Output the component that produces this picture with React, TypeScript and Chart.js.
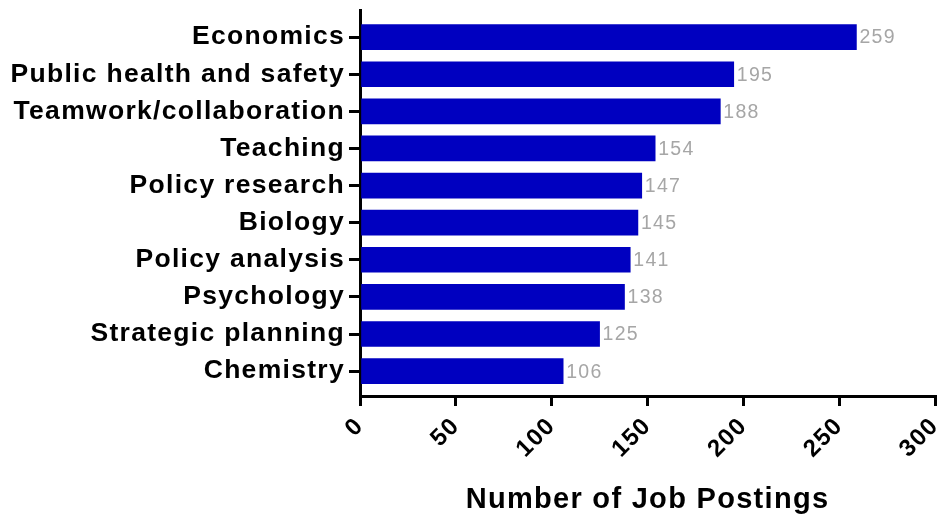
import React, { useEffect, useRef } from "react";
import { Chart, registerables } from "chart.js";

Chart.register(...registerables);

const categories = [
  "Economics",
  "Public health and safety",
  "Teamwork/collaboration",
  "Teaching",
  "Policy research",
  "Biology",
  "Policy analysis",
  "Psychology",
  "Strategic planning",
  "Chemistry",
];
const postings = [259, 195, 188, 154, 147, 145, 141, 138, 125, 106];
const xTicks = [0, 50, 100, 150, 200, 250, 300];

const FONT = "'Liberation Sans', Arial, Helvetica, sans-serif";
const SPACING = "1.3px";

const spacingPlugin = {
  id: "spacing",
  beforeUpdate(chart: any) {
    chart.ctx.letterSpacing = SPACING;
  },
  beforeLayout(chart: any) {
    chart.ctx.letterSpacing = SPACING;
  },
  beforeDraw(chart: any) {
    chart.ctx.letterSpacing = SPACING;
  },
};

const valueLabels = {
  id: "valueLabels",
  afterDatasetsDraw(chart: any) {
    const ctx = chart.ctx;
    const meta = chart.getDatasetMeta(0);
    ctx.save();
    ctx.letterSpacing = "1.3px";
    ctx.font = `19.5px ${FONT}`;
    ctx.fillStyle = "#a6a6a6";
    ctx.textAlign = "left";
    ctx.textBaseline = "middle";
    meta.data.forEach((bar: any, i: number) => {
      ctx.fillText(String(postings[i]), bar.x + 3, bar.y + 1);
    });
    ctx.restore();
  },
};

export default function App() {
  const ref = useRef<HTMLCanvasElement>(null);
  useEffect(() => {
    if (!ref.current) return;
    const chart = new Chart(ref.current, {
      type: "bar",
      data: {
        datasets: [
          {
            data: postings.map((v, i) => ({ x: v, y: i })),
            backgroundColor: "#0000c0",
            borderWidth: 0,
            barThickness: 25,
          },
        ],
      },
      options: {
        indexAxis: "y",
        animation: false,
        responsive: true,
        maintainAspectRatio: false,
        layout: { padding: { top: 10, right: 13, left: 2, bottom: 6 } },
        plugins: { legend: { display: false }, tooltip: { enabled: false } },
        scales: {
          y: {
            type: "linear",
            reverse: true,
            offset: false,
            min: -0.73,
            max: 9.67,
            afterBuildTicks: (axis: any) => {
              axis.ticks = categories.map((_, i) => ({ value: i }));
            },
            afterFit: (scale: any) => {
              scale.width = 358;
              scale.paddingTop = 0;
              scale.paddingBottom = 0;
            },
            ticks: {
              callback: (v: any) => categories[v as number] ?? "",
              color: "#000",
              font: { family: FONT, size: 26.5, weight: "bold" },
              padding: 4,
              autoSkip: false,
            },
            grid: {
              offset: false,
              drawOnChartArea: false,
              drawTicks: true,
              tickLength: 11,
              color: "#000",
              lineWidth: 3,
            },
            border: { color: "#000", width: 3 },
          },
          x: {
            type: "linear",
            min: 0,
            max: 300,
            afterBuildTicks: (axis: any) => {
              axis.ticks = xTicks.map((v) => ({ value: v }));
            },
            afterFit: (scale: any) => {
              scale.height = 121;
              scale.paddingLeft = 0;
              scale.paddingRight = 0;
            },
            ticks: {
              color: "#000",
              font: { family: FONT, size: 24, weight: "bold" },
              minRotation: 45,
              maxRotation: 45,
              padding: 6,
            },
            grid: {
              drawOnChartArea: false,
              drawTicks: true,
              tickLength: 10,
              color: "#000",
              lineWidth: 3,
            },
            border: { color: "#000", width: 3 },
            title: {
              display: true,
              text: "Number of Job Postings",
              color: "#000",
              font: { family: FONT, size: 29, weight: "bold" },
              padding: { top: 8, bottom: 0 },
            },
          },
        },
      },
      plugins: [spacingPlugin, valueLabels],
    });
    return () => chart.destroy();
  }, []);
  return (
    <div style={{ position: "absolute", left: 0, top: 0, width: 948, height: 523, background: "#fff" }}>
      <canvas ref={ref} />
    </div>
  );
}
